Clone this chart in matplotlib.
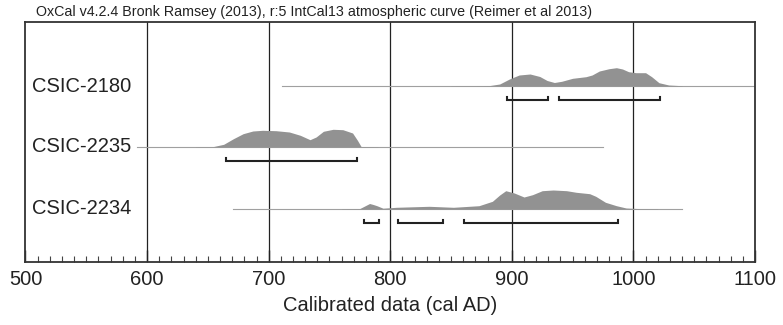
import numpy as np
import matplotlib.pyplot as plt

# Calibrated date ranges drawn OxCal-style: one row per sample

plt.rcParams['font.family'] = ['Liberation Sans', 'DejaVu Sans']

samples = ['CSIC-2180', 'CSIC-2235', 'CSIC-2234']

# full extent of the thin baseline (cal AD)
extent = [(711, 1100), (592, 975), (671, 1040)]

# probability distribution outlines: years and relative heights
years_2180 = [850, 875, 882, 890, 898, 906, 915, 923, 929, 935, 941, 950, 961, 966, 972,
              980, 986, 991, 996, 1002, 1010, 1015, 1021, 1029, 1040]
dens_2180  = [0.2, 0.3, 0.5, 2, 7, 11, 12, 9.5, 5.5, 3.5, 4.7, 7.7, 9.3, 11, 15,
              17.3, 18.3, 17, 14.3, 13.3, 13.3, 9.3, 3.3, 1, 0.3]

years_2235 = [640, 654, 663, 671, 679, 687, 695, 706, 717, 726, 734, 739, 745, 753, 761,
              769, 773, 776, 790]
dens_2235  = [0.2, 0.3, 2.7, 8.3, 13.3, 16, 16.7, 16.3, 15, 11.7, 7.3, 10, 15.7, 17.7, 17.3,
              14, 6.7, 0.5, 0.2]

years_2234 = [760, 775, 779, 783, 786, 789, 794, 805, 832, 852, 873, 884, 890, 895, 902,
              910, 917, 925, 934, 945, 953, 964, 969, 977, 986, 994, 1005, 1020]
dens_2234  = [0.3, 0.5, 3, 5.5, 4.5, 3.3, 0.8, 1.7, 2.7, 1.7, 3.3, 7.7, 14, 18.3, 16,
              12, 14.3, 18.3, 19, 18.3, 16.7, 15.3, 12.7, 6.7, 3.3, 1, 0.4, 0.3]

# 95.4% ranges
ranges_2180 = [(896, 930), (939, 1022)]
ranges_2235 = [(665, 773)]
ranges_2234 = [(778, 791), (806, 843), (861, 987)]

years = [years_2180, years_2235, years_2234]
dens = [dens_2180, dens_2235, dens_2234]
ranges = [ranges_2180, ranges_2235, ranges_2234]

fig = plt.figure(figsize=(7.83, 3.25), dpi=100)
ax = fig.add_axes([25.5/783, 63/325, (755-25.5)/783, 240/325])

rows = [176, 115, 53]
ax.set_xlim(500, 1100)
ax.set_ylim(0, 240)

for x in [600, 700, 800, 900, 1000]:
    ax.axvline(x, color='#222222', lw=0.9, zorder=1)

for i, name in enumerate(samples):
    y0 = rows[i]
    ax.plot(extent[i], [y0, y0], color='#a0a0a0', lw=0.8, zorder=2)
    ax.fill_between(years[i], y0, y0 + np.array(dens[i]), color='#929292',
                    lw=0, zorder=2)
    for a, b in ranges[i]:
        yb = y0 - 14
        ax.plot([a, a, b, b], [yb + 3.5, yb, yb, yb + 3.5], color='#222222',
                lw=1.5, solid_joinstyle='miter', zorder=3)
    ax.text(505, y0, name, fontsize=14.5, va='center', ha='left', color='#222222')

ax.set_yticks([])
ax.set_xticks(np.arange(500, 1101, 100))
ax.set_xticks(np.arange(500, 1101, 10), minor=True)
ax.tick_params(axis='x', which='major', direction='in', length=9, width=1,
               labelsize=14.5, colors='#222222', pad=6)
ax.tick_params(axis='x', which='minor', direction='in', length=4, width=0.8,
               colors='#444444')
for s in ax.spines.values():
    s.set_linewidth(1.3)
    s.set_color('#333333')

ax.set_xlabel('Calibrated data (cal AD)', fontsize=14.5, color='#222222', labelpad=5)
fig.text(36/783, 1 - 12/325, 'OxCal v4.2.4 Bronk Ramsey (2013), r:5 IntCal13 atmospheric curve (Reimer et al 2013)',
         fontsize=10.3, va='center', ha='left', color='#222222')

fig.savefig('out.png', dpi=100)
